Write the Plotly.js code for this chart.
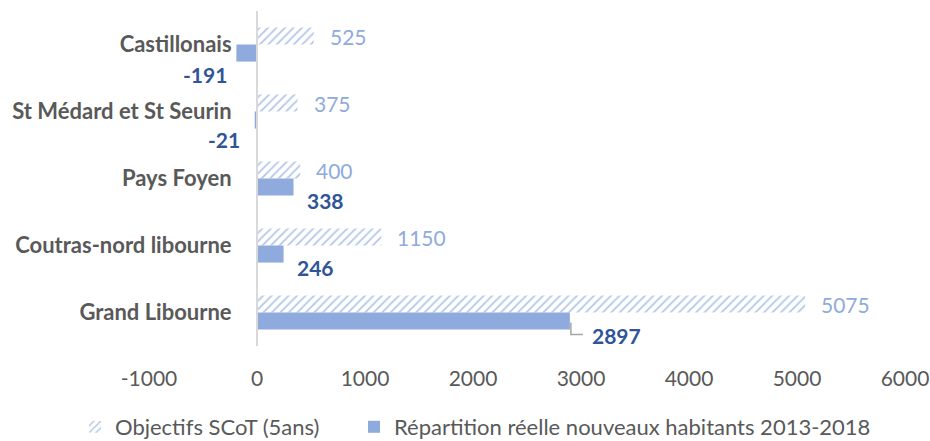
<!DOCTYPE html>
<html><head><meta charset="utf-8">
<script src="https://cdn.plot.ly/plotly-3.0.1.min.js"></script>
<style>html,body{margin:0;padding:0;background:#fff}#chart{width:930px;height:441px}</style>
</head><body><div id="chart"></div>
<script>
// ---- data ----
const categories = ['Castillonais', 'St Médard et St Seurin', 'Pays Foyen', 'Coutras-nord libourne', 'Grand Libourne'];
const objectifs = [525, 375, 400, 1150, 5075];
const reelle = [-191, -21, 338, 246, 2897];
const seriesNames = ['Objectifs SCoT (5ans)', 'Répartition réelle nouveaux habitants 2013-2018'];
const tickValues = [-1000, 0, 1000, 2000, 3000, 4000, 5000, 6000];
const tickLabels = ['-1000', '0', '1000', '2000', '3000', '4000', '5000', '6000'];

// ---- style ----
const FONT = 'Lato, "Open Sans", sans-serif';
const GREY = '#595959';
const LIGHT = '#8faadc';
const DARK = '#2f5597';
// per-label offsets (pixels) for the moved "réelle" labels
const reelDx = [-7, -13, 11, 11, 20];
const reelDy = [-30, -28, -22, -22, -23];
const leader = [false, false, false, false, true];

const traces = [
  {
    type: 'bar', orientation: 'h', name: seriesNames[0], legend: 'legend',
    y: categories, x: objectifs,
    marker: {color: '#ffffff', line: {width: 0},
      pattern: {shape: '/', fgcolor: '#b4c7e7', bgcolor: '#ffffff', size: 6, solidity: 0.3}},
    hoverinfo: 'x'
  },
  {
    type: 'bar', orientation: 'h', name: seriesNames[1], legend: 'legend2',
    y: categories, x: reelle,
    marker: {color: LIGHT, line: {width: 0}},
    hoverinfo: 'x'
  }
];

const annotations = [];
const shapes = [];
categories.forEach((c, i) => {
  annotations.push({
    x: objectifs[i], y: c, xref: 'x', yref: 'y', text: String(objectifs[i]),
    showarrow: false, xanchor: 'left', yanchor: 'middle', xshift: 14, yshift: 8,
    font: {family: FONT, size: 21, color: LIGHT}
  });
  const neg = reelle[i] < 0;
  annotations.push({
    x: reelle[i], y: c, xref: 'x', yref: 'y', text: '<b>' + String(reelle[i]) + '</b>',
    showarrow: false, xanchor: neg ? 'right' : 'left', yanchor: 'middle',
    xshift: reelDx[i], yshift: reelDy[i],
    font: {family: FONT, size: 21, color: DARK}
  });
  if (leader[i]) {
    shapes.push({
      type: 'path', xref: 'x', yref: 'y', xsizemode: 'pixel', ysizemode: 'pixel',
      xanchor: reelle[i], yanchor: c,
      path: 'M1,-10 L1,-22 L13,-22',
      line: {color: '#a6a6a6', width: 1.5}
    });
  }
});

const legendBase = {
  orientation: 'h', xref: 'paper', yref: 'paper', xanchor: 'left',
  y: -0.2418, yanchor: 'middle', itemwidth: 30,
  font: {family: FONT, size: 22, color: GREY}
};

const layout = {
  width: 930, height: 441,
  margin: {l: 149, r: 25, t: 11, b: 95, autoexpand: false},
  paper_bgcolor: '#ffffff', plot_bgcolor: '#ffffff',
  barmode: 'group', bargap: 0.49, bargroupgap: 0,
  showlegend: true,
  font: {family: FONT, color: GREY},
  xaxis: {
    range: [-1000, 6000], tickmode: 'array', tickvals: tickValues, ticktext: tickLabels,
    showgrid: false, zeroline: false, showline: false, ticks: '',
    ticklabelstandoff: 18,
    tickfont: {family: FONT, size: 21, color: GREY}, automargin: false, fixedrange: true
  },
  yaxis: {
    type: 'category', range: [categories.length - 0.5, -0.5], autorange: false,
    anchor: 'free', position: 1 / 7,
    showline: true, linecolor: '#d9d9d9', linewidth: 2,
    showgrid: false, zeroline: false, ticks: '',
    ticklabelstandoff: 20,
    tickfont: {family: FONT, size: 22, color: GREY, weight: 'bold'}, automargin: false, fixedrange: true
  },
  legend: Object.assign({}, legendBase, {x: -74 / 756}),
  legend2: Object.assign({}, legendBase, {x: 205 / 756}),
  annotations: annotations,
  shapes: shapes
};

Plotly.newPlot('chart', traces, layout, {displayModeBar: false, staticPlot: true});
</script>
</body></html>
